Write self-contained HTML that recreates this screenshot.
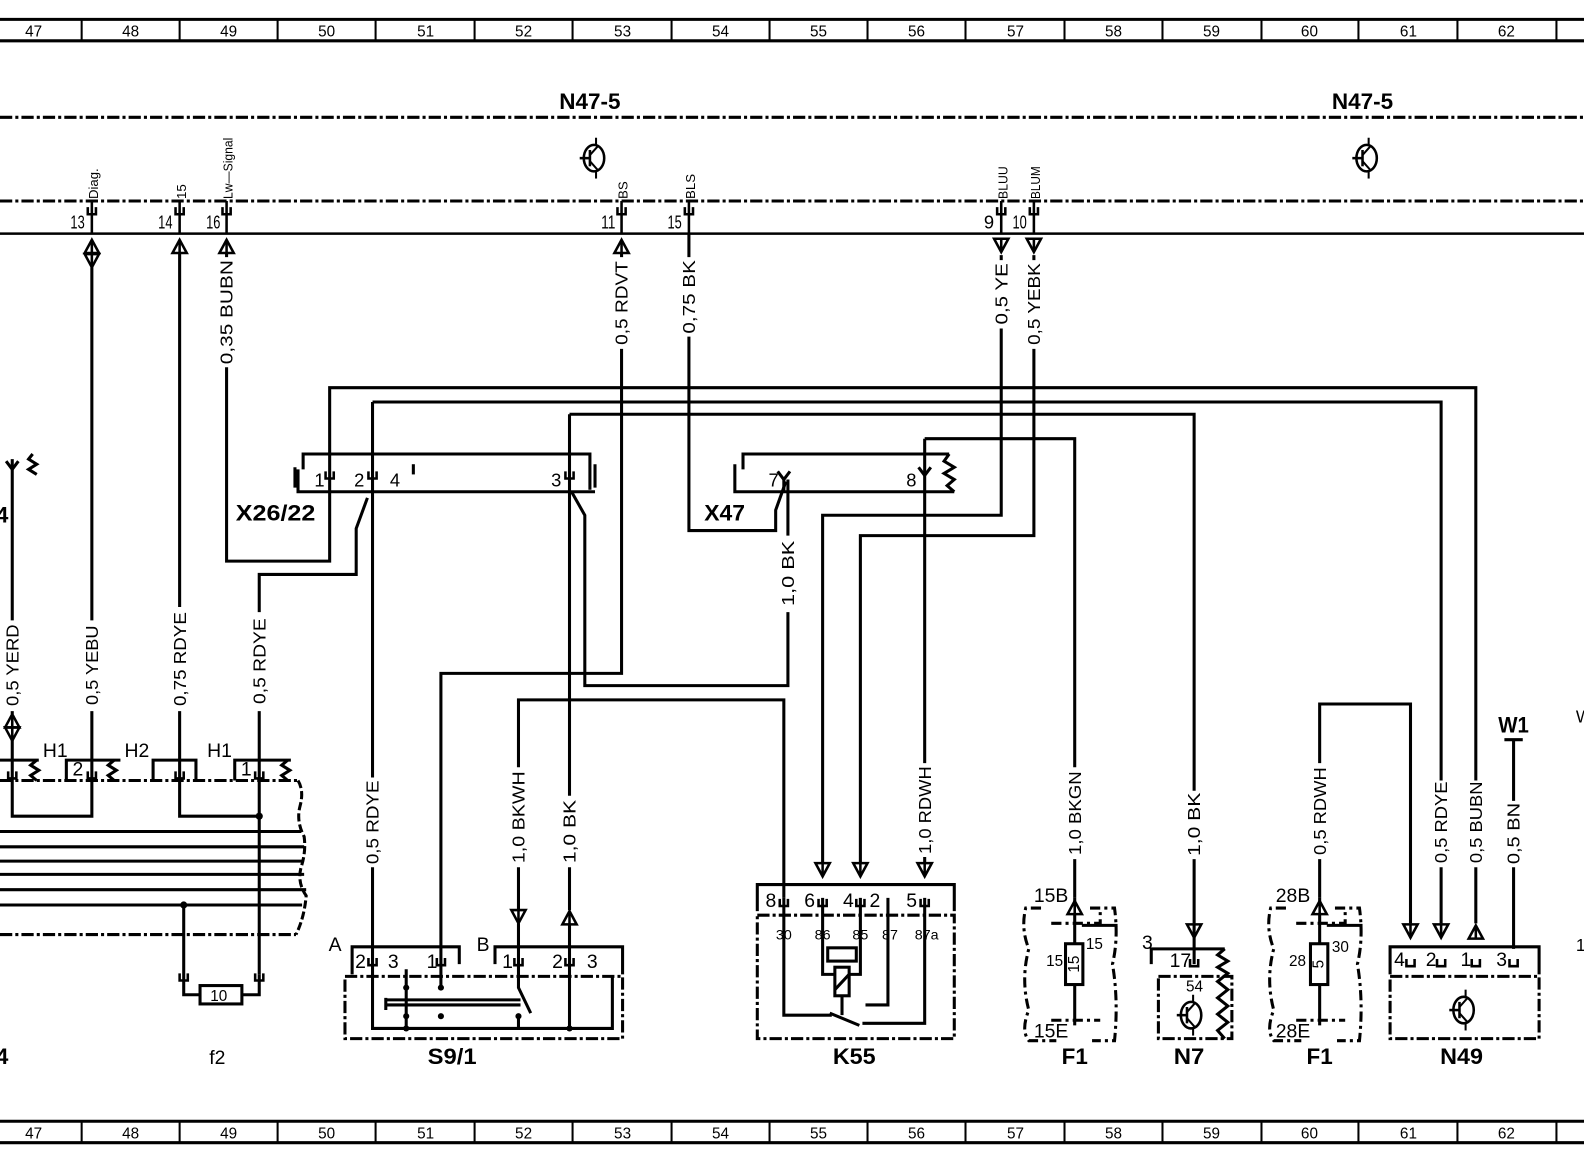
<!DOCTYPE html>
<html><head><meta charset="utf-8"><style>
html,body{margin:0;padding:0;background:#fff;}
svg{display:block;}
text{font-family:"Liberation Sans",sans-serif;fill:#000;}
.n{font-size:15px;}
.b{font-weight:bold;font-size:22px;}
.l{font-size:17px;}
</style></head><body>
<svg width="1584" height="1158" viewBox="0 0 1552 1135" preserveAspectRatio="none" xmlns="http://www.w3.org/2000/svg">
<defs>
<g id="dn"><path d="M-7,-7 H7 L0,6 Z M-7,-7 L0,6 L7,-7" fill="#fff" stroke="#000" stroke-width="2.5"/><line x1="0" y1="-7" x2="0" y2="6" stroke="#000" stroke-width="2.5"/></g>
<g id="up"><path d="M-7,7 H7 L0,-6 Z" fill="#fff" stroke="#000" stroke-width="2.5"/><line x1="0" y1="-6" x2="0" y2="7" stroke="#000" stroke-width="2.5"/></g>
<g id="pin"><path d="M-4,-4 V3 H4 V-4" fill="none" stroke="#000" stroke-width="2.5"/></g>
<g id="tr"><ellipse cx="0" cy="0" rx="10" ry="13" fill="none" stroke="#000" stroke-width="2.5"/><line x1="-14" y1="0" x2="-4" y2="0" stroke="#000" stroke-width="2.5"/><line x1="-4" y1="-8" x2="-4" y2="8" stroke="#000" stroke-width="2.5"/><line x1="-4" y1="-3" x2="4" y2="-12" stroke="#000" stroke-width="2"/><line x1="-4" y1="3" x2="4" y2="12" stroke="#000" stroke-width="2"/><line x1="2" y1="-20" x2="2" y2="-12" stroke="#000" stroke-width="2"/><line x1="2" y1="12" x2="2" y2="20" stroke="#000" stroke-width="2"/></g>
</defs>

<g stroke="#000">
<line x1="0" y1="19" x2="1552" y2="19" stroke-width="3"/>
<line x1="0" y1="40" x2="1552" y2="40" stroke-width="3"/>
<line x1="0" y1="1099" x2="1552" y2="1099" stroke-width="3"/>
<line x1="0" y1="1120" x2="1552" y2="1120" stroke-width="3"/>
<g stroke-width="2">
<path d="M80,19V40M176,19V40M272,19V40M368,19V40M465,19V40M561,19V40M658,19V40M754,19V40M850,19V40M946,19V40M1043,19V40M1139,19V40M1236,19V40M1331,19V40M1428,19V40M1525,19V40"/>
<path d="M80,1099V1120M176,1099V1120M272,1099V1120M368,1099V1120M465,1099V1120M561,1099V1120M658,1099V1120M754,1099V1120M850,1099V1120M946,1099V1120M1043,1099V1120M1139,1099V1120M1236,1099V1120M1331,1099V1120M1428,1099V1120M1525,1099V1120"/>
</g></g>
<g class="n" text-anchor="middle">
<text x="33" y="36">47</text><text x="128" y="36">48</text><text x="224" y="36">49</text><text x="320" y="36">50</text><text x="417" y="36">51</text><text x="513" y="36">52</text><text x="610" y="36">53</text><text x="706" y="36">54</text><text x="802" y="36">55</text><text x="898" y="36">56</text><text x="995" y="36">57</text><text x="1091" y="36">58</text><text x="1187" y="36">59</text><text x="1283" y="36">60</text><text x="1380" y="36">61</text><text x="1476" y="36">62</text>
<text x="33" y="1116">47</text><text x="128" y="1116">48</text><text x="224" y="1116">49</text><text x="320" y="1116">50</text><text x="417" y="1116">51</text><text x="513" y="1116">52</text><text x="610" y="1116">53</text><text x="706" y="1116">54</text><text x="802" y="1116">55</text><text x="898" y="1116">56</text><text x="995" y="1116">57</text><text x="1091" y="1116">58</text><text x="1187" y="1116">59</text><text x="1283" y="1116">60</text><text x="1380" y="1116">61</text><text x="1476" y="1116">62</text>
</g>

<text class="b" x="578" y="107" text-anchor="middle" textLength="60" lengthAdjust="spacingAndGlyphs">N47-5</text>
<text class="b" x="1335" y="107" text-anchor="middle" textLength="60" lengthAdjust="spacingAndGlyphs">N47-5</text>
<g stroke="#000" stroke-width="3" stroke-dasharray="12 3 3 3" fill="none">
<line x1="0" y1="115" x2="1552" y2="115"/>
<line x1="0" y1="197" x2="1552" y2="197"/>
</g>
<use href="#tr" x="582" y="155"/>
<use href="#tr" x="1339" y="155"/>
<line x1="0" y1="229" x2="1552" y2="229" stroke="#000" stroke-width="2.5"/>

<g stroke="#000" stroke-width="2.5">
<path d="M90,197V229M176,197V229M222,197V229M609,197V229M675,197V229M981,197V229M1013,197V229"/>
</g>
<use href="#pin" x="90" y="207"/><use href="#pin" x="176" y="207"/><use href="#pin" x="222" y="207"/><use href="#pin" x="609" y="207"/><use href="#pin" x="675" y="207"/><use href="#pin" x="981" y="207"/><use href="#pin" x="1013" y="207"/>
<g style="font-size:18px" text-anchor="end">
<text x="83" y="224" textLength="14" lengthAdjust="spacingAndGlyphs">13</text><text x="169" y="224" textLength="14" lengthAdjust="spacingAndGlyphs">14</text><text x="216" y="224" textLength="14" lengthAdjust="spacingAndGlyphs">16</text><text x="603" y="224" textLength="14" lengthAdjust="spacingAndGlyphs">11</text><text x="668" y="224" textLength="14" lengthAdjust="spacingAndGlyphs">15</text><text x="974" y="224">9</text><text x="1006" y="224" textLength="14" lengthAdjust="spacingAndGlyphs">10</text>
</g>
<g style="font-size:13px">
<text transform="translate(96,195) rotate(-90)" textLength="30" lengthAdjust="spacingAndGlyphs">Diag.</text>
<text transform="translate(182,195) rotate(-90)">15</text>
<text transform="translate(228,195) rotate(-90)" textLength="60" lengthAdjust="spacingAndGlyphs">Lw—Signal</text>
<text transform="translate(615,195) rotate(-90)">BS</text>
<text transform="translate(681,195) rotate(-90)">BLS</text>
<text transform="translate(987,195) rotate(-90)" textLength="32" lengthAdjust="spacingAndGlyphs">BLUU</text>
<text transform="translate(1019,195) rotate(-90)" textLength="32" lengthAdjust="spacingAndGlyphs">BLUM</text>
</g>
<use href="#up" x="90" y="241"/><use href="#dn" x="90" y="256"/>
<use href="#up" x="176" y="241"/><use href="#up" x="222" y="241"/><use href="#up" x="609" y="241"/>
<use href="#dn" x="981" y="241"/><use href="#dn" x="1013" y="241"/>

<g stroke="#000" stroke-width="3" fill="none">
<path d="M90,262V608M90,697V800H12V725"/>
<path d="M176,248V595M176,697V800H254"/>
<path d="M222,248V252M222,360V550H323V380H1446V765M1446,850V905"/>
<path d="M254,600V563H349V518L360,488M254,697V955"/>
<path d="M365,394H1412V765M1412,850V905"/>
<path d="M365,394V762M365,850V940"/>
<path d="M558,406H1170V775M1170,842V905"/>
<path d="M558,406V780M558,850V892M558,905V940"/>
<path d="M560,482L573,505V672H772V600M772,525V470"/>
<path d="M609,248V252M609,342V660H432V940"/>
<path d="M675,229V252M675,330V520H760V500L770,472"/>
<path d="M508,940V905M508,892V850M508,752V686H768V880"/>
<path d="M806,846V505H981V322M981,250V255"/>
<path d="M843,846V525H1013V342M1013,250V255"/>
<path d="M906,430H1053V752M1053,842V880"/>
<path d="M906,430V748M906,840V846"/>
<path d="M1293,880V842M1293,748V690H1382V905"/>
<path d="M1483,725V785M1483,850V930"/>
<path d="M1474,725H1492"/>
<path d="M12,450V608M12,697V700"/>
</g>
<use href="#up" x="12" y="706"/><use href="#dn" x="12" y="720"/>

<g class="l" text-anchor="middle">
<text transform="translate(222,306) rotate(-90)" dy="6" textLength="102" lengthAdjust="spacingAndGlyphs">0,35 BUBN</text>
<text transform="translate(609,297) rotate(-90)" dy="6" textLength="82" lengthAdjust="spacingAndGlyphs">0,5 RDVT</text>
<text transform="translate(675,291) rotate(-90)" dy="6" textLength="72" lengthAdjust="spacingAndGlyphs">0,75 BK</text>
<text transform="translate(981,288) rotate(-90)" dy="6" textLength="60" lengthAdjust="spacingAndGlyphs">0,5 YE</text>
<text transform="translate(1013,298) rotate(-90)" dy="6" textLength="80" lengthAdjust="spacingAndGlyphs">0,5 YEBK</text>
<text transform="translate(12,652) rotate(-90)" dy="6" textLength="80" lengthAdjust="spacingAndGlyphs">0,5 YERD</text>
<text transform="translate(90,652) rotate(-90)" dy="6" textLength="78" lengthAdjust="spacingAndGlyphs">0,5 YEBU</text>
<text transform="translate(176,646) rotate(-90)" dy="6" textLength="92" lengthAdjust="spacingAndGlyphs">0,75 RDYE</text>
<text transform="translate(254,648) rotate(-90)" dy="6" textLength="84" lengthAdjust="spacingAndGlyphs">0,5 RDYE</text>
<text transform="translate(772,562) rotate(-90)" dy="6" textLength="64" lengthAdjust="spacingAndGlyphs">1,0 BK</text>
<text transform="translate(365,806) rotate(-90)" dy="6" textLength="82" lengthAdjust="spacingAndGlyphs">0,5 RDYE</text>
<text transform="translate(508,801) rotate(-90)" dy="6" textLength="90" lengthAdjust="spacingAndGlyphs">1,0 BKWH</text>
<text transform="translate(558,815) rotate(-90)" dy="6" textLength="62" lengthAdjust="spacingAndGlyphs">1,0 BK</text>
<text transform="translate(906,794) rotate(-90)" dy="6" textLength="86" lengthAdjust="spacingAndGlyphs">1,0 RDWH</text>
<text transform="translate(1053,797) rotate(-90)" dy="6" textLength="82" lengthAdjust="spacingAndGlyphs">1,0 BKGN</text>
<text transform="translate(1170,808) rotate(-90)" dy="6" textLength="62" lengthAdjust="spacingAndGlyphs">1,0 BK</text>
<text transform="translate(1293,795) rotate(-90)" dy="6" textLength="86" lengthAdjust="spacingAndGlyphs">0,5 RDWH</text>
<text transform="translate(1412,806) rotate(-90)" dy="6" textLength="80" lengthAdjust="spacingAndGlyphs">0,5 RDYE</text>
<text transform="translate(1446,806) rotate(-90)" dy="6" textLength="80" lengthAdjust="spacingAndGlyphs">0,5 BUBN</text>
<text transform="translate(1483,817) rotate(-90)" dy="6" textLength="60" lengthAdjust="spacingAndGlyphs">0,5 BN</text>
</g>

<g stroke="#000" stroke-width="3" fill="none">
<path d="M297,460V445H578V480"/>
<path d="M292,460V482H583"/>
<path d="M289,458V478M583,455V478"/>
<path d="M720,455V482H935M728,460V445H930"/>
<path d="M930,445L925,452L935,458L925,464L935,470L928,476L935,482"/>
<path d="M762,462L768,470L774,462M768,470V482"/>
<path d="M900,458L906,466L912,458"/>
</g>
<line x1="405" y1="455" x2="405" y2="465" stroke="#000" stroke-width="3"/>
<use href="#pin" x="323" y="466"/><use href="#pin" x="365" y="466"/><use href="#pin" x="558" y="466"/>
<g style="font-size:18px">
<text x="308" y="477">1</text><text x="347" y="477">2</text><text x="382" y="477">4</text><text x="540" y="477">3</text>
<text x="753" y="477">7</text><text x="888" y="477">8</text>
</g>
<text class="b" x="270" y="510" text-anchor="middle" textLength="78" lengthAdjust="spacingAndGlyphs">X26/22</text>
<text class="b" x="710" y="510" text-anchor="middle" textLength="40" lengthAdjust="spacingAndGlyphs">X47</text>

<g stroke="#000" stroke-width="3" fill="none">
<path d="M6,452L12,460L18,452"/>
<path d="M32,445L28,450L36,455L28,460L36,465"/>
</g>
<text class="b" x="-4" y="512">4</text>
<text class="b" x="-4" y="1043">4</text>

<g stroke="#000" stroke-width="3" fill="none">
<line x1="0" y1="765" x2="292" y2="765" stroke-dasharray="12 3 3 3"/>
<line x1="0" y1="916" x2="290" y2="916" stroke-dasharray="12 3 3 3"/>
<path d="M0,815H295M0,830H298M0,844H296M0,857H298M0,872H300M0,887H296"/>
<path d="M292,765Q298,775 294,790Q290,805 298,820Q300,835 295,850Q291,865 300,878Q298,900 290,916" stroke-dasharray="8 3"/>
<path d="M0,745H38M65,765V745H118M150,765V745H192V765M230,765V745H285"/>
<path d="M36,745L30,750L38,755L30,760L36,765"/>
<path d="M112,745L106,750L114,755L106,760L112,765"/>
<path d="M282,745L276,750L284,755L276,760L282,765"/>
<path d="M180,887V955M180,955V975H196M237,975H254V955"/>
<rect x="196" y="966" width="41" height="18"/>
</g>
<circle cx="254" cy="800" r="3.5"/><circle cx="180" cy="887" r="3.5"/>
<use href="#pin" x="12" y="760"/><use href="#pin" x="90" y="760"/><use href="#pin" x="176" y="760"/><use href="#pin" x="254" y="760"/>
<use href="#pin" x="180" y="958"/><use href="#pin" x="254" y="958"/>
<g class="l" style="font-size:19px">
<text x="42" y="742">H1</text><text x="122" y="742">H2</text><text x="203" y="742">H1</text>
<text x="71" y="760">2</text><text x="236" y="760">1</text>
<text class="n" x="206" y="981">10</text>
<text x="205" y="1043">f2</text>
</g>

<g stroke="#000" stroke-width="3" fill="none">
<rect x="338" y="957" width="272" height="61" stroke-dasharray="12 3 3 3"/>
<path d="M345,955V928H450V945M485,945V928H610V955"/>
<path d="M365,940V1008H600V957"/>
<path d="M398,950V1008M432,940V968M432,995V998"/>
<path d="M378,985H510M378,980H510M378,978V990"/>
<path d="M508,940V968L520,993M508,995V1008"/>
<path d="M558,940V1008"/>
</g>
<circle cx="398" cy="968" r="3"/><circle cx="398" cy="996" r="3"/><circle cx="432" cy="968" r="3"/><circle cx="432" cy="996" r="3"/><circle cx="508" cy="996" r="3"/><circle cx="398" cy="1008" r="3"/><circle cx="558" cy="1008" r="3"/>
<use href="#pin" x="365" y="943"/><use href="#pin" x="432" y="943"/><use href="#pin" x="508" y="943"/><use href="#pin" x="558" y="943"/>
<use href="#dn" x="508" y="899"/><use href="#up" x="558" y="899"/>
<g class="l" style="font-size:19px"><text x="322" y="932">A</text><text x="467" y="932">B</text>
<text x="348" y="949">2</text><text x="380" y="949">3</text><text x="418" y="949">1</text><text x="492" y="949">1</text><text x="541" y="949">2</text><text x="575" y="949">3</text></g>
<text class="b" x="443" y="1043" text-anchor="middle" textLength="48" lengthAdjust="spacingAndGlyphs">S9/1</text>

<g stroke="#000" stroke-width="3" fill="none">
<rect x="742" y="897" width="193" height="121" stroke-dasharray="12 3 3 3"/>
<path d="M742,893V867H935V893"/>
<path d="M768,880V995H815M870,880V985H848M906,880V1003H845"/>
<path d="M806,880V955H818M843,880V955H832"/>
<rect x="811" y="929" width="28" height="13"/>
<rect x="818" y="948" width="14" height="28"/>
<path d="M818,970L832,955M825,976V995M813,993L842,1005"/>
</g>
<use href="#pin" x="768" y="885"/><use href="#pin" x="806" y="885"/><use href="#pin" x="843" y="885"/><use href="#pin" x="906" y="885"/>
<use href="#dn" x="806" y="853"/><use href="#dn" x="843" y="853"/><use href="#dn" x="906" y="853"/>
<g class="l" style="font-size:19px"><text x="750" y="889">8</text><text x="788" y="889">6</text><text x="826" y="889">4</text><text x="852" y="889">2</text><text x="888" y="889">5</text></g>
<g style="font-size:14px" text-anchor="middle"><text x="768" y="921">30</text><text x="806" y="921">86</text><text x="843" y="921">85</text><text x="872" y="921">87</text><text x="908" y="921">87a</text></g>
<text class="b" x="837" y="1043" text-anchor="middle" textLength="42" lengthAdjust="spacingAndGlyphs">K55</text>

<g stroke="#000" stroke-width="3" fill="none" stroke-dasharray="10 4 3 4">
<path d="M1020,890H1005Q1000,910 1008,930Q1000,960 1008,990Q1000,1010 1008,1020H1035"/>
<path d="M1068,890H1092Q1096,920 1090,945Q1096,980 1092,1020H1070"/>
<path d="M1030,905H1078V890M1030,1000H1078"/>
</g>
<g stroke="#000" stroke-width="3" fill="none">
<path d="M1053,880V1005M1060,907H1095"/>
<rect x="1044" y="925" width="17" height="40" fill="#fff"/>
</g>
<use href="#up" x="1053" y="889"/>
<g class="l" style="font-size:19px"><text x="1013" y="884">15B</text><text x="1013" y="1017">15E</text><text class="n" x="1025" y="947">15</text><text class="n" x="1064" y="930">15</text></g>
<text transform="translate(1057,945) rotate(-90)" class="n" text-anchor="middle">15</text>
<text class="b" x="1053" y="1043" text-anchor="middle">F1</text>

<g stroke="#000" stroke-width="3" fill="none">
<rect x="1135" y="957" width="72" height="61" stroke-dasharray="12 3 3 3"/>
<path d="M1128,945V930H1200M1170,905V945"/>
<path d="M1200,930L1193,936L1203,942L1193,948L1203,954L1193,962L1203,970L1193,978L1203,986L1193,994L1203,1002L1193,1010L1200,1018"/>
</g>
<use href="#pin" x="1170" y="944"/>
<use href="#dn" x="1170" y="913"/>
<use href="#tr" x="1167" y="995"/>
<g class="l" style="font-size:19px"><text x="1119" y="930">3</text><text x="1146" y="948">17</text><text class="n" x="1162" y="972">54</text></g>
<text class="b" x="1165" y="1043" text-anchor="middle" textLength="30" lengthAdjust="spacingAndGlyphs">N7</text>

<g stroke="#000" stroke-width="3" fill="none" stroke-dasharray="10 4 3 4">
<path d="M1260,890H1245Q1240,910 1248,930Q1240,960 1248,990Q1240,1010 1248,1020H1275"/>
<path d="M1308,890H1332Q1336,920 1330,945Q1336,980 1332,1020H1310"/>
<path d="M1270,905H1318V890M1270,1000H1318"/>
</g>
<g stroke="#000" stroke-width="3" fill="none">
<path d="M1293,880V1005M1300,907H1335"/>
<rect x="1284" y="925" width="17" height="40" fill="#fff"/>
</g>
<use href="#up" x="1293" y="889"/>
<g class="l" style="font-size:19px"><text x="1250" y="884">28B</text><text x="1250" y="1017">28E</text><text class="n" x="1263" y="947">28</text><text class="n" x="1305" y="933">30</text></g>
<text transform="translate(1297,945) rotate(-90)" class="n" text-anchor="middle">5</text>
<text class="b" x="1293" y="1043" text-anchor="middle">F1</text>

<g stroke="#000" stroke-width="3" fill="none">
<rect x="1362" y="957" width="146" height="61" stroke-dasharray="12 3 3 3"/>
<path d="M1362,955V928H1508V955"/>
</g>
<use href="#pin" x="1382" y="944"/><use href="#pin" x="1412" y="944"/><use href="#pin" x="1446" y="944"/><use href="#pin" x="1483" y="944"/>
<use href="#dn" x="1382" y="913"/><use href="#dn" x="1412" y="913"/><use href="#up" x="1446" y="913"/>
<use href="#tr" x="1434" y="990"/>
<g class="l" style="font-size:19px"><text x="1366" y="947">4</text><text x="1397" y="947">2</text><text x="1431" y="947">1</text><text x="1466" y="947">3</text></g>
<text class="b" x="1432" y="1043" text-anchor="middle" textLength="42" lengthAdjust="spacingAndGlyphs">N49</text>
<text class="b" x="1483" y="718" text-anchor="middle" textLength="30" lengthAdjust="spacingAndGlyphs">W1</text>
<text class="l" x="1544" y="708">W</text>
<text class="l" x="1544" y="932">1</text>
</svg>
</body></html>
